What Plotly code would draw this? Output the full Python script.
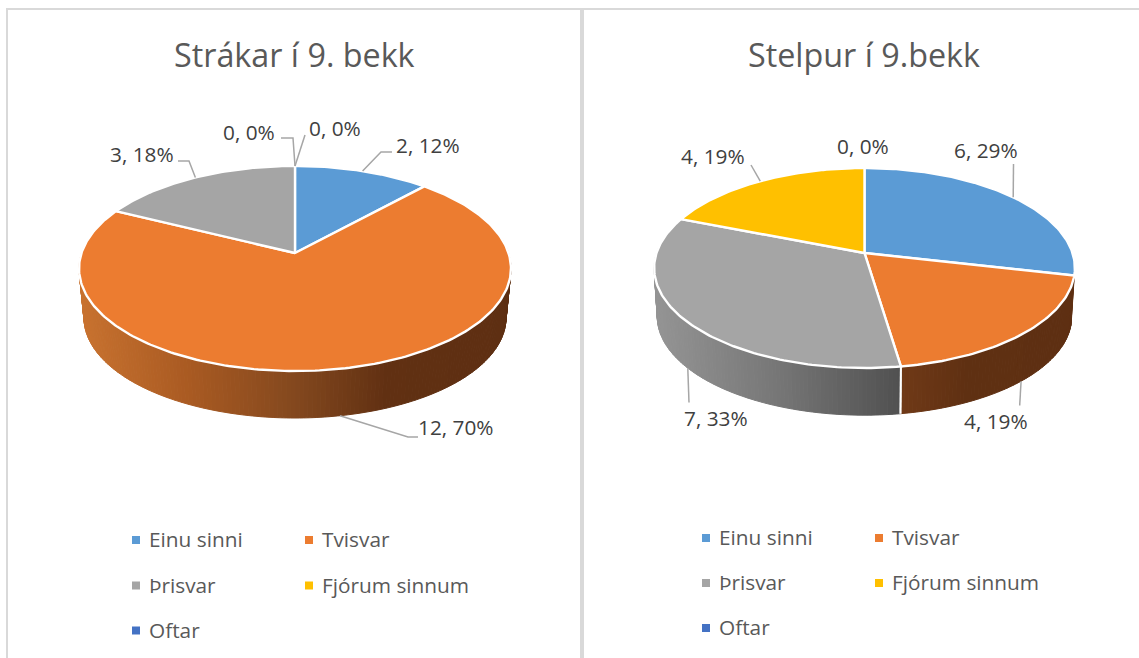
import math
import plotly.graph_objects as go

# ---- data -------------------------------------------------------------
categories = ["Einu sinni", "Tvisvar", "Þrisvar", "Fjórum sinnum", "Oftar"]
strakar_values = [2, 12, 3, 0, 0]
strakar_percent = [12, 70, 18, 0, 0]
stelpur_values = [6, 4, 7, 4, 0]
stelpur_percent = [29, 19, 33, 19, 0]
strakar_title = "Strákar í 9. bekk"
stelpur_title = "Stelpur í 9.bekk"

# ---- style ------------------------------------------------------------
colors = ["#5B9BD5", "#EC7C30", "#A5A5A5", "#FFC000", "#4472C4"]
FONT = "Open Sans"
TEXT = "#595959"
LABEL = "#404040"
LEADER = "#A6A6A6"
FRAME = "#D9D9D9"

LEFT = dict(cx=295, cy=253, R=213.5, a=100.2, k=0.151, depth=49.7, s=0.977,
            shade={1: [(84, "#C8722F"), (190, "#A95A22"), (295, "#83481E"), (385, "#613012"), (510, "#5E2F12")]},
            leaders=[[(381, 152), (392, 152)], [(408, 437), (418, 437)], [(189, 161), (178, 161)],
                     [(293, 138), (281, 138)], [(305, 135)]],
            on_side=[False, True, False, False, False],
            labels=[(428, 145), (456, 427), (142, 154), (249, 132), (335, 128)],
            legend_y=[540, 585.5, 630.5], legend_x=[136, 309])
RIGHT = dict(cx=864.5, cy=253, R=208, a=97.75, k=0.15, depth=48.9, s=0.985,
             shade={1: [(902, "#6F3917"), (965, "#5F3012"), (1075, "#5E2F12")],
                    2: [(658, "#949494"), (780, "#767676"), (900, "#505050")]},
             leaders=[[(1013.5, 164)], [(1019.7, 405.5)], [(689, 402.5)], [(751, 165)], None],
             on_side=[False, True, True, False, False],
             labels=[(986, 150), (996, 421), (716, 418), (713, 156), (863, 146)],
             legend_y=[538, 583, 628], legend_x=[706, 879])


def hex_rgb(h):
    return tuple(int(h[i:i + 2], 16) for i in (1, 3, 5))


def shade_at(stops, x):
    if x <= stops[0][0]:
        return stops[0][1]
    for (x0, c0), (x1, c1) in zip(stops, stops[1:]):
        if x <= x1:
            f = (x - x0) / (x1 - x0)
            a, b = hex_rgb(c0), hex_rgb(c1)
            return "rgb(%d,%d,%d)" % tuple(round(a[i] + (b[i] - a[i]) * f) for i in range(3))
    return stops[-1][1]


def top_pt(p, deg):
    """Point of the tilted disc at a clockwise angle from 12 o'clock."""
    t = math.radians(deg)
    u, v = math.sin(t), math.cos(t)
    w = 1 + p["k"] * v
    return p["cx"] + p["R"] * u / w, p["cy"] - p["a"] * v / w


def bottom_pt(p, deg):
    t = math.radians(deg)
    u, v = math.sin(t), math.cos(t)
    w = 1 + p["k"] * v
    return p["cx"] + p["s"] * p["R"] * u / w, p["cy"] + p["depth"] - p["s"] * p["a"] * v / w


fig = go.Figure()


def add_pie(p, values, percent, title):
    total = sum(values)
    edges = [0]
    for v in values:
        edges.append(edges[-1] + v / total * 360)

    # rim, drawn first so that the disc covers its upper edge
    for i, val in enumerate(values):
        lo, hi = max(edges[i], 80), min(edges[i + 1], 280)
        if val == 0 or hi <= lo or i not in p["shade"]:
            continue
        n = max(2, int(hi - lo))
        for j in range(n):
            d0 = lo + (hi - lo) * j / n
            d1 = lo + (hi - lo) * (j + 1) / n
            a0, a1 = top_pt(p, d0), top_pt(p, d1)
            b0, b1 = bottom_pt(p, d0), bottom_pt(p, d1)
            col = shade_at(p["shade"][i], (b0[0] + b1[0]) / 2)
            fig.add_trace(go.Scatter(
                x=[a0[0], a1[0], b1[0], b0[0], a0[0]], y=[a0[1], a1[1], b1[1], b0[1], a0[1]],
                mode="lines", fill="toself", fillcolor=col, line=dict(color=col, width=1),
                hoverinfo="skip", showlegend=False))
        # white seam at the slice boundaries on the rim
        for d in (edges[i], edges[i + 1]):
            if 110 < d < 260:
                a, b = top_pt(p, d), bottom_pt(p, d)
                fig.add_trace(go.Scatter(x=[a[0], b[0]], y=[a[1], b[1]], mode="lines",
                                         line=dict(color="white", width=2),
                                         hoverinfo="skip", showlegend=False))

    # top face
    for i, val in enumerate(values):
        if val == 0:
            continue
        n = max(2, int((edges[i + 1] - edges[i]) / 1.0))
        pts = [top_pt(p, edges[i] + (edges[i + 1] - edges[i]) * j / n) for j in range(n + 1)]
        xs = [p["cx"]] + [q[0] for q in pts] + [p["cx"]]
        ys = [p["cy"]] + [q[1] for q in pts] + [p["cy"]]
        fig.add_trace(go.Scatter(x=xs, y=ys, mode="lines", fill="toself", fillcolor=colors[i],
                                 line=dict(color="white", width=2.4), name=categories[i],
                                 text=f"{categories[i]}: {val}, {percent[i]}%",
                                 hoverinfo="text", showlegend=False))

    # leaders and labels
    for i, val in enumerate(values):
        mid = (edges[i] + edges[i + 1]) / 2
        if val == 0:
            mid = edges[i]
        route = p["leaders"][i]
        if route:
            start = bottom_pt(p, mid) if p["on_side"][i] else top_pt(p, mid % 360)
            fig.add_trace(go.Scatter(x=[start[0]] + [q[0] for q in route],
                                     y=[start[1]] + [q[1] for q in route],
                                     mode="lines", line=dict(color=LEADER, width=1.5),
                                     hoverinfo="skip", showlegend=False))
        lx, ly = p["labels"][i]
        fig.add_annotation(x=lx, y=ly, text=f"{val}, {percent[i]}%", showarrow=False,
                           font=dict(family=FONT, size=20.8, color=LABEL))

    # title
    fig.add_annotation(x=p["cx"] - 1, y=54, text=title, showarrow=False,
                       font=dict(family=FONT, size=32.3, color=TEXT))

    # legend
    for i, name in enumerate(categories):
        mx = p["legend_x"][i % 2]
        my = p["legend_y"][i // 2]
        fig.add_trace(go.Scatter(x=[mx], y=[my], mode="markers",
                                 marker=dict(symbol="square", size=8, color=colors[i]),
                                 name=name, hoverinfo="name", showlegend=False))
        fig.add_annotation(x=mx + 11, y=my - 1, text=name, showarrow=False, xanchor="left",
                           font=dict(family=FONT, size=20.8, color=TEXT))


add_pie(LEFT, strakar_values, strakar_percent, strakar_title)
add_pie(RIGHT, stelpur_values, stelpur_percent, stelpur_title)

# panel frames
frame_lines = [(6, 9, 1139, 9, 2), (7, 8, 7, 658, 2), (582, 8, 582, 658, 4)]
for x0, y0, x1, y1, w in frame_lines:
    fig.add_shape(type="line", x0=x0, y0=y0, x1=x1, y1=y1, line=dict(color=FRAME, width=w), layer="below")

fig.update_layout(
    width=1139, height=658, margin=dict(l=0, r=0, t=0, b=0),
    paper_bgcolor="white", plot_bgcolor="white", showlegend=False,
    xaxis=dict(range=[0, 1139], visible=False, fixedrange=True),
    yaxis=dict(range=[658, 0], visible=False, fixedrange=True),
)
fig.write_html("out.html", config=dict(displayModeBar=False),
               post_script="document.body.style.margin='0';document.documentElement.style.overflow='hidden';")
